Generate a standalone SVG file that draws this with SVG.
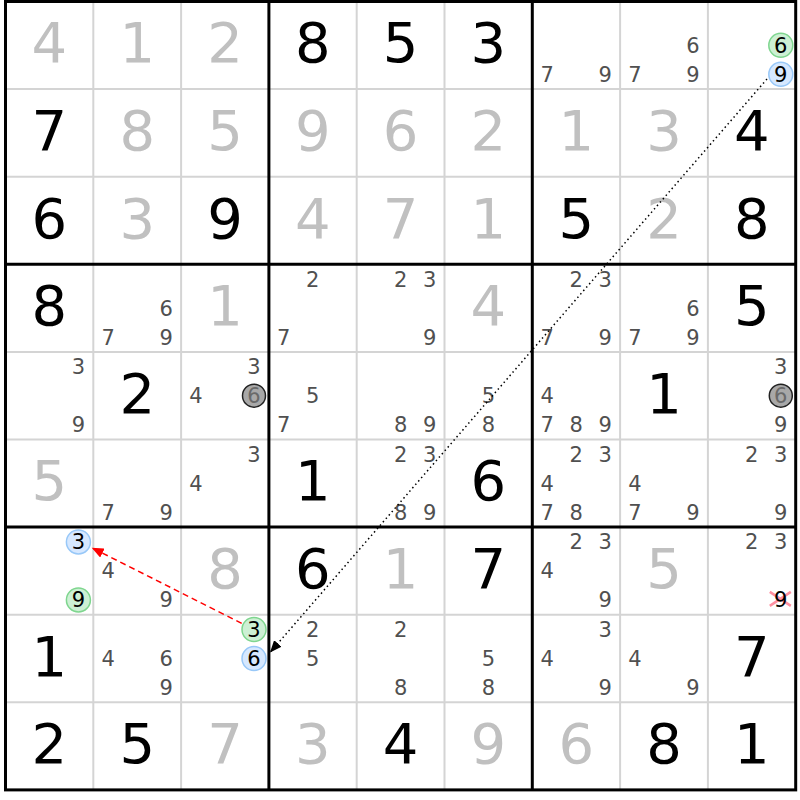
<svg xmlns="http://www.w3.org/2000/svg" width="800" height="800" viewBox="0 0 800 800">
<style>
.bg{fill:#fff}
.thin{stroke:#d4d4d4;stroke-width:2}
.thick{stroke:#000;stroke-width:3;fill:none}
text{font-family:"DejaVu Sans","Liberation Sans",sans-serif;text-anchor:middle}
.g{font-size:56px;fill:#c0c0c0}
.s{font-size:56px;fill:#000}
.c{font-size:21px;fill:#505050}
.h{font-size:21px;fill:#000}
.cg{fill:#cdf0d4;stroke:#7fd68f;stroke-width:1.5}
.cb{fill:#d6e8ff;stroke:#98c8f8;stroke-width:1.5}
.cgr{fill:#a8a8a8;stroke:#222;stroke-width:1.5}
.gd{font-size:21px;fill:#6a6a6a}
.x{stroke:#ff8fa0;stroke-width:2.5}
</style>
<defs>
<marker id="ab" markerUnits="userSpaceOnUse" markerWidth="13" markerHeight="10" refX="12" refY="5" orient="auto"><path d="M0,0 L12,5 L0,10 z" fill="#000"/></marker>
<marker id="ar" markerUnits="userSpaceOnUse" markerWidth="13" markerHeight="10" refX="12" refY="5" orient="auto"><path d="M0,0 L12,5 L0,10 z" fill="#f00"/></marker>
</defs>
<rect class="bg" x="0" y="0" width="800" height="800"/>
<g id="grid">
<g class="thin">
<line x1="93.3" y1="1.5" x2="93.3" y2="789.9"/>
<line x1="181.1" y1="1.5" x2="181.1" y2="789.9"/>
<line x1="356.7" y1="1.5" x2="356.7" y2="789.9"/>
<line x1="444.5" y1="1.5" x2="444.5" y2="789.9"/>
<line x1="620.1" y1="1.5" x2="620.1" y2="789.9"/>
<line x1="707.9" y1="1.5" x2="707.9" y2="789.9"/>
<line x1="5.5" y1="89.1" x2="795.7" y2="89.1"/>
<line x1="5.5" y1="176.7" x2="795.7" y2="176.7"/>
<line x1="5.5" y1="351.9" x2="795.7" y2="351.9"/>
<line x1="5.5" y1="439.5" x2="795.7" y2="439.5"/>
<line x1="5.5" y1="614.7" x2="795.7" y2="614.7"/>
<line x1="5.5" y1="702.3" x2="795.7" y2="702.3"/>
</g>
<g class="thick">
<line x1="268.9" y1="1.5" x2="268.9" y2="789.9"/>
<line x1="532.3" y1="1.5" x2="532.3" y2="789.9"/>
<line x1="5.5" y1="264.3" x2="795.7" y2="264.3"/>
<line x1="5.5" y1="527.1" x2="795.7" y2="527.1"/>
<rect x="5.5" y="1.5" width="790.2" height="788.4"/>
</g>
</g>
<g id="cells">
<!-- row 1 -->
<g id="r1c1" transform="translate(49.4,45.3)"><text class="g" y="17">4</text></g>
<g id="r1c2" transform="translate(137.2,45.3)"><text class="g" y="17">1</text></g>
<g id="r1c3" transform="translate(225,45.3)"><text class="g" y="17">2</text></g>
<g id="r1c4" transform="translate(312.8,45.3)"><text class="s" y="17">8</text></g>
<g id="r1c5" transform="translate(400.6,45.3)"><text class="s" y="17">5</text></g>
<g id="r1c6" transform="translate(488.4,45.3)"><text class="s" y="17">3</text></g>
<g id="r1c7" transform="translate(576.2,45.3)"><text class="c" x="-29" y="36.5">7</text><text class="c" x="29" y="36.5">9</text></g>
<g id="r1c8" transform="translate(664,45.3)"><text class="c" x="29" y="7.5">6</text><text class="c" x="-29" y="36.5">7</text><text class="c" x="29" y="36.5">9</text></g>
<g id="r1c9" transform="translate(751.8,45.3)"><circle class="cg" cx="29" cy="0" r="12"/><text class="h" x="29" y="7.5">6</text><circle class="cb" cx="29" cy="29" r="12"/><text class="h" x="29" y="36.5">9</text></g>
<!-- row 2 -->
<g id="r2c1" transform="translate(49.4,132.9)"><text class="s" y="17">7</text></g>
<g id="r2c2" transform="translate(137.2,132.9)"><text class="g" y="17">8</text></g>
<g id="r2c3" transform="translate(225,132.9)"><text class="g" y="17">5</text></g>
<g id="r2c4" transform="translate(312.8,132.9)"><text class="g" y="17">9</text></g>
<g id="r2c5" transform="translate(400.6,132.9)"><text class="g" y="17">6</text></g>
<g id="r2c6" transform="translate(488.4,132.9)"><text class="g" y="17">2</text></g>
<g id="r2c7" transform="translate(576.2,132.9)"><text class="g" y="17">1</text></g>
<g id="r2c8" transform="translate(664,132.9)"><text class="g" y="17">3</text></g>
<g id="r2c9" transform="translate(751.8,132.9)"><text class="s" y="17">4</text></g>
<!-- row 3 -->
<g id="r3c1" transform="translate(49.4,220.5)"><text class="s" y="17">6</text></g>
<g id="r3c2" transform="translate(137.2,220.5)"><text class="g" y="17">3</text></g>
<g id="r3c3" transform="translate(225,220.5)"><text class="s" y="17">9</text></g>
<g id="r3c4" transform="translate(312.8,220.5)"><text class="g" y="17">4</text></g>
<g id="r3c5" transform="translate(400.6,220.5)"><text class="g" y="17">7</text></g>
<g id="r3c6" transform="translate(488.4,220.5)"><text class="g" y="17">1</text></g>
<g id="r3c7" transform="translate(576.2,220.5)"><text class="s" y="17">5</text></g>
<g id="r3c8" transform="translate(664,220.5)"><text class="g" y="17">2</text></g>
<g id="r3c9" transform="translate(751.8,220.5)"><text class="s" y="17">8</text></g>
<!-- row 4 -->
<g id="r4c1" transform="translate(49.4,308.1)"><text class="s" y="17">8</text></g>
<g id="r4c2" transform="translate(137.2,308.1)"><text class="c" x="29" y="7.5">6</text><text class="c" x="-29" y="36.5">7</text><text class="c" x="29" y="36.5">9</text></g>
<g id="r4c3" transform="translate(225,308.1)"><text class="g" y="17">1</text></g>
<g id="r4c4" transform="translate(312.8,308.1)"><text class="c" x="0" y="-21.5">2</text><text class="c" x="-29" y="36.5">7</text></g>
<g id="r4c5" transform="translate(400.6,308.1)"><text class="c" x="0" y="-21.5">2</text><text class="c" x="29" y="-21.5">3</text><text class="c" x="29" y="36.5">9</text></g>
<g id="r4c6" transform="translate(488.4,308.1)"><text class="g" y="17">4</text></g>
<g id="r4c7" transform="translate(576.2,308.1)"><text class="c" x="0" y="-21.5">2</text><text class="c" x="29" y="-21.5">3</text><text class="c" x="-29" y="36.5">7</text><text class="c" x="29" y="36.5">9</text></g>
<g id="r4c8" transform="translate(664,308.1)"><text class="c" x="29" y="7.5">6</text><text class="c" x="-29" y="36.5">7</text><text class="c" x="29" y="36.5">9</text></g>
<g id="r4c9" transform="translate(751.8,308.1)"><text class="s" y="17">5</text></g>
<!-- row 5 -->
<g id="r5c1" transform="translate(49.4,395.7)"><text class="c" x="29" y="-21.5">3</text><text class="c" x="29" y="36.5">9</text></g>
<g id="r5c2" transform="translate(137.2,395.7)"><text class="s" y="17">2</text></g>
<g id="r5c3" transform="translate(225,395.7)"><text class="c" x="29" y="-21.5">3</text><text class="c" x="-29" y="7.5">4</text><circle class="cgr" cx="29" cy="0" r="11.5"/><text class="gd" x="29" y="7.5">6</text></g>
<g id="r5c4" transform="translate(312.8,395.7)"><text class="c" x="0" y="7.5">5</text><text class="c" x="-29" y="36.5">7</text></g>
<g id="r5c5" transform="translate(400.6,395.7)"><text class="c" x="0" y="36.5">8</text><text class="c" x="29" y="36.5">9</text></g>
<g id="r5c6" transform="translate(488.4,395.7)"><text class="c" x="0" y="7.5">5</text><text class="c" x="0" y="36.5">8</text></g>
<g id="r5c7" transform="translate(576.2,395.7)"><text class="c" x="-29" y="7.5">4</text><text class="c" x="-29" y="36.5">7</text><text class="c" x="0" y="36.5">8</text><text class="c" x="29" y="36.5">9</text></g>
<g id="r5c8" transform="translate(664,395.7)"><text class="s" y="17">1</text></g>
<g id="r5c9" transform="translate(751.8,395.7)"><text class="c" x="29" y="-21.5">3</text><circle class="cgr" cx="29" cy="0" r="11.5"/><text class="gd" x="29" y="7.5">6</text><text class="c" x="29" y="36.5">9</text></g>
<!-- row 6 -->
<g id="r6c1" transform="translate(49.4,483.3)"><text class="g" y="17">5</text></g>
<g id="r6c2" transform="translate(137.2,483.3)"><text class="c" x="-29" y="36.5">7</text><text class="c" x="29" y="36.5">9</text></g>
<g id="r6c3" transform="translate(225,483.3)"><text class="c" x="29" y="-21.5">3</text><text class="c" x="-29" y="7.5">4</text></g>
<g id="r6c4" transform="translate(312.8,483.3)"><text class="s" y="17">1</text></g>
<g id="r6c5" transform="translate(400.6,483.3)"><text class="c" x="0" y="-21.5">2</text><text class="c" x="29" y="-21.5">3</text><text class="c" x="0" y="36.5">8</text><text class="c" x="29" y="36.5">9</text></g>
<g id="r6c6" transform="translate(488.4,483.3)"><text class="s" y="17">6</text></g>
<g id="r6c7" transform="translate(576.2,483.3)"><text class="c" x="0" y="-21.5">2</text><text class="c" x="29" y="-21.5">3</text><text class="c" x="-29" y="7.5">4</text><text class="c" x="-29" y="36.5">7</text><text class="c" x="0" y="36.5">8</text></g>
<g id="r6c8" transform="translate(664,483.3)"><text class="c" x="-29" y="7.5">4</text><text class="c" x="-29" y="36.5">7</text><text class="c" x="29" y="36.5">9</text></g>
<g id="r6c9" transform="translate(751.8,483.3)"><text class="c" x="0" y="-21.5">2</text><text class="c" x="29" y="-21.5">3</text><text class="c" x="29" y="36.5">9</text></g>
<!-- row 7 -->
<g id="r7c1" transform="translate(49.4,570.9)"><circle class="cb" cx="29" cy="-29" r="12"/><text class="h" x="29" y="-21.5">3</text><circle class="cg" cx="29" cy="29" r="12"/><text class="h" x="29" y="36.5">9</text></g>
<g id="r7c2" transform="translate(137.2,570.9)"><text class="c" x="-29" y="7.5">4</text><text class="c" x="29" y="36.5">9</text></g>
<g id="r7c3" transform="translate(225,570.9)"><text class="g" y="17">8</text></g>
<g id="r7c4" transform="translate(312.8,570.9)"><text class="s" y="17">6</text></g>
<g id="r7c5" transform="translate(400.6,570.9)"><text class="g" y="17">1</text></g>
<g id="r7c6" transform="translate(488.4,570.9)"><text class="s" y="17">7</text></g>
<g id="r7c7" transform="translate(576.2,570.9)"><text class="c" x="0" y="-21.5">2</text><text class="c" x="29" y="-21.5">3</text><text class="c" x="-29" y="7.5">4</text><text class="c" x="29" y="36.5">9</text></g>
<g id="r7c8" transform="translate(664,570.9)"><text class="g" y="17">5</text></g>
<g id="r7c9" transform="translate(751.8,570.9)"><text class="c" x="0" y="-21.5">2</text><text class="c" x="29" y="-21.5">3</text><line class="x" x1="18" y1="21" x2="39" y2="35"/><line class="x" x1="18" y1="35" x2="39" y2="21"/><text class="h" x="29" y="36.5">9</text></g>
<!-- row 8 -->
<g id="r8c1" transform="translate(49.4,658.5)"><text class="s" y="17">1</text></g>
<g id="r8c2" transform="translate(137.2,658.5)"><text class="c" x="-29" y="7.5">4</text><text class="c" x="29" y="7.5">6</text><text class="c" x="29" y="36.5">9</text></g>
<g id="r8c3" transform="translate(225,658.5)"><circle class="cg" cx="29" cy="-29" r="12"/><text class="h" x="29" y="-21.5">3</text><circle class="cb" cx="29" cy="0" r="12"/><text class="h" x="29" y="7.5">6</text></g>
<g id="r8c4" transform="translate(312.8,658.5)"><text class="c" x="0" y="-21.5">2</text><text class="c" x="0" y="7.5">5</text></g>
<g id="r8c5" transform="translate(400.6,658.5)"><text class="c" x="0" y="-21.5">2</text><text class="c" x="0" y="36.5">8</text></g>
<g id="r8c6" transform="translate(488.4,658.5)"><text class="c" x="0" y="7.5">5</text><text class="c" x="0" y="36.5">8</text></g>
<g id="r8c7" transform="translate(576.2,658.5)"><text class="c" x="29" y="-21.5">3</text><text class="c" x="-29" y="7.5">4</text><text class="c" x="29" y="36.5">9</text></g>
<g id="r8c8" transform="translate(664,658.5)"><text class="c" x="-29" y="7.5">4</text><text class="c" x="29" y="36.5">9</text></g>
<g id="r8c9" transform="translate(751.8,658.5)"><text class="s" y="17">7</text></g>
<!-- row 9 -->
<g id="r9c1" transform="translate(49.4,746.1)"><text class="s" y="17">2</text></g>
<g id="r9c2" transform="translate(137.2,746.1)"><text class="s" y="17">5</text></g>
<g id="r9c3" transform="translate(225,746.1)"><text class="g" y="17">7</text></g>
<g id="r9c4" transform="translate(312.8,746.1)"><text class="g" y="17">3</text></g>
<g id="r9c5" transform="translate(400.6,746.1)"><text class="s" y="17">4</text></g>
<g id="r9c6" transform="translate(488.4,746.1)"><text class="g" y="17">9</text></g>
<g id="r9c7" transform="translate(576.2,746.1)"><text class="g" y="17">6</text></g>
<g id="r9c8" transform="translate(664,746.1)"><text class="s" y="17">8</text></g>
<g id="r9c9" transform="translate(751.8,746.1)"><text class="s" y="17">1</text></g>
</g>
<g id="connectors" fill="none">
<line x1="767" y1="79" x2="270" y2="652.5" stroke="#000" stroke-width="1.5" stroke-dasharray="1.5,3" marker-end="url(#ab)"/>
<line x1="241.7" y1="623.3" x2="91.7" y2="547.7" stroke="#f00" stroke-width="1.5" stroke-dasharray="6,4" marker-end="url(#ar)"/>
</g>
</svg>
